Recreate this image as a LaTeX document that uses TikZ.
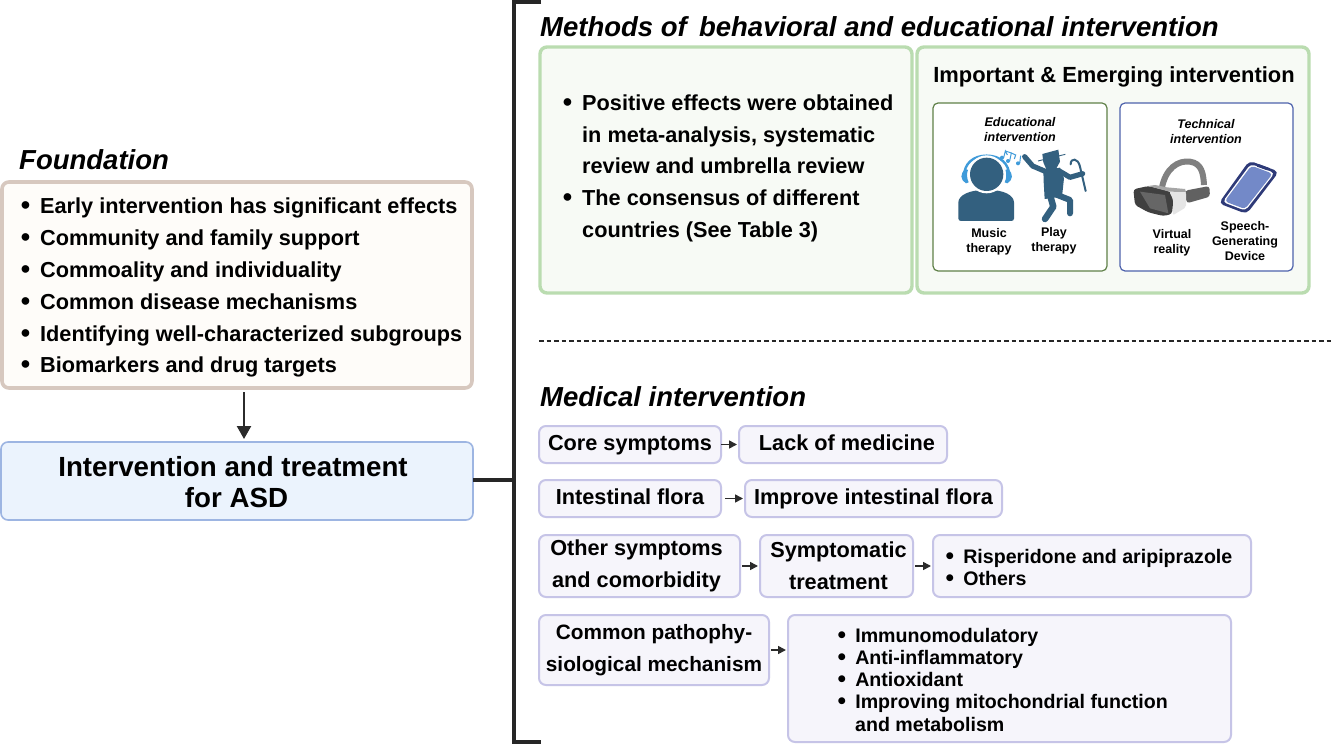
\documentclass[tikz,border=0pt]{standalone}
\usepackage{fontspec}
\setmainfont{Liberation Sans}
\newfontfamily\bulletfont{DejaVu Sans}
\usetikzlibrary{arrows.meta}
\newcommand{\fs}[1]{\fontsize{#1}{#1}\selectfont\bfseries}
\newcommand{\fsb}[2]{\fontsize{#1}{#2}\selectfont\bfseries}
\newcommand{\mybox}[6]{\node[#6,minimum width={#4-#2},minimum height={#5-#3}] (#1) at ({(#2+#4)/2},{(#3+#5)/2}) {};}
\newcommand{\li}[5]{\node[anchor=base west,inner sep=0pt] (#1) at (#2,#3) {\fs{#4}\makebox[#4pt][l]{{\bulletfont •}}#5};}
\tikzset{
 base box/.style={rectangle,rounded corners=#1,inner sep=0pt,outer sep=0pt},
 greenbox/.style={base box=7pt,draw=boxgreen,line width=3.4pt,fill=fillgreen},
 tanbox/.style={base box=7pt,draw=boxtan,line width=3.6pt,fill=filltan},
 bluebox/.style={base box=7pt,draw=boxblue,line width=1.6pt,fill=fillblue},
 lavbox/.style={base box=7pt,draw=boxlav,line width=2pt,fill=filllav},
 edubox/.style={base box=5pt,draw=edugreen,line width=1.2pt,fill=white},
 techbox/.style={base box=5pt,draw=techblue,line width=1.2pt,fill=white},
 arr/.style={draw=arrowgray,line width=1.6pt,shorten >=2pt,-{Triangle[length=8pt,width=8pt]}},
 bigarr/.style={draw=arrowgray,line width=2.4pt,-{Triangle[length=13pt,width=14pt]}},
 brk/.style={draw=black!85,line width=3.4pt},
 txt/.style={inner sep=0pt,align=center},
 one/.style={inner sep=0pt,align=center,text height=15.5pt,text depth=4.5pt,font=\fs{21.7}},
 lbl/.style={inner sep=0pt,anchor=base west},
 small/.style={inner sep=0pt,align=center,font=\fsb{12.5}{15}},
 smalli/.style={inner sep=0pt,align=center,font=\fsb{12.5}{15}\itshape},
 limb/.style={draw=person,line cap=round,line join=round},
}
\definecolor{boxgreen}{HTML}{BADCB0}\definecolor{fillgreen}{HTML}{F7FAF5}
\definecolor{boxtan}{HTML}{D7C8BF}\definecolor{filltan}{HTML}{FEFCF9}
\definecolor{boxblue}{HTML}{9DB5E2}\definecolor{fillblue}{HTML}{EBF3FD}
\definecolor{boxlav}{HTML}{C6C4E7}\definecolor{filllav}{HTML}{F6F5FB}
\definecolor{edugreen}{HTML}{5F8047}\definecolor{techblue}{HTML}{4D62AC}
\definecolor{arrowgray}{HTML}{2B2B2B}\definecolor{person}{HTML}{33607F}
\definecolor{phones}{HTML}{3F9BDA}\definecolor{navy}{HTML}{2E3A78}\definecolor{screen}{HTML}{7389C8}
\begin{document}
\begin{tikzpicture}[x=1pt,y=-1pt]
\useasboundingbox (0,0) rectangle (1333,744);
\fill[white] (0,0) rectangle (1333,744);
% left column
\node[lbl] (foundation) at (19,169) {\fs{27.5}\itshape Foundation};
\mybox{fbox}{2}{182}{472}{388}{tanbox}
\li{f1}{18.3}{213.6}{21.7}{Early intervention has significant effects}
\li{f2}{18.3}{245.6}{21.7}{Community and family support}
\li{f3}{18.3}{277.6}{21.7}{Commoality and individuality}
\li{f4}{18.3}{309.6}{21.7}{Common disease mechanisms}
\li{f5}{18.3}{341.6}{21.7}{Identifying well-characterized subgroups}
\li{f6}{18.3}{372.6}{21.7}{Biomarkers and drug targets}
\mybox{asd}{1}{442}{473}{520}{bluebox}
\node[txt,font=\fsb{27.7}{31.5}] (asdt) at (233,482) {Intervention and treatment\\\hspace*{7pt}for ASD};
\draw[bigarr] ([xshift=7pt,yshift=-4pt]fbox.south) -- ([xshift=7pt,yshift=3pt]asd.north);
% bracket
\coordinate (btop) at (541,2);
\coordinate (bbot) at (541,742);
\draw[brk] (btop) -- (514,2) -- (514,742) -- (bbot);
\draw[brk] ([yshift=1pt]asd.east) -- (514,480);
% methods
\node[lbl] (mh) at (540,36) {\fs{27.5}\itshape Methods of\, behavioral and educational intervention};
\mybox{mleft}{540}{47}{912}{293}{greenbox}
\mybox{mright}{917}{47}{1309}{293}{greenbox}
\li{m1}{560.3}{110}{21.7}{Positive effects were obtained}
\node[lbl] (m1b) at (582,142) {\fs{21.7}in meta-analysis, systematic};
\node[lbl] (m1c) at (582,173) {\fs{21.7}review and umbrella review};
\li{m2}{560.3}{205}{21.7}{The consensus of different}
\node[lbl] (m2b) at (582,237) {\fs{21.7}countries (See Table 3)};
\node[txt] (imp) at (1114,77) {\fs{21.9}Important \& Emerging intervention};
\mybox{edu}{933}{103}{1107}{271}{edubox}
\mybox{tech}{1120}{103}{1293}{271}{techbox}
\node[smalli] (edut) at (1020,130) {Educational\\intervention};
\node[smalli] (techt) at (1206,132) {Technical\\intervention};
\node[small] (music) at (989,242) {Music\\therapy};
\node[small] (play) at (1054,241) {Play\\therapy};
\node[small] (vr) at (1172,243) {Virtual\\reality};
\node[small] (sgd) at (1245,241) {Speech-\\Generating\\Device};
% music and play icons
\begin{scope}[shift={(950,145)},x=0.3333pt,y=-0.3333pt]
 \draw[phones,line width=2.4pt] (42,95) .. controls (42,55) and (70,32) .. (110,32) .. controls (150,32) and (178,55) .. (178,95);
 \fill[phones] (46,72) .. controls (30,85) and (30,105) .. (48,115) -- (56,112) .. controls (50,100) and (50,85) .. (54,75) -- cycle;
 \fill[phones] (174,72) .. controls (190,85) and (190,105) .. (172,115) -- (164,112) .. controls (170,100) and (170,85) .. (166,75) -- cycle;
 \fill[person,rounded corners=2.5pt] (25,228) -- (25,180) .. controls (25,150) and (60,135) .. (110,135) .. controls (160,135) and (192,150) .. (192,180) -- (192,228) -- cycle;
 \fill[white] (110,88) circle[radius=57];
 \fill[person] (110,88) circle[radius=50];
 % notes
 \fill[phones] (156,38) circle[radius=6];
 \fill[phones] (174,48) circle[radius=6];
 \fill[phones] (204,55) circle[radius=6];
 \draw[phones,line width=1pt] (161,38) -- (166,18) -- (172,30);
 \draw[phones,line width=1pt] (179,48) -- (184,24) -- (166,18);
 \draw[phones,line width=1pt] (184,24) -- (197,30) -- (193,42);
 \draw[phones,line width=1pt] (209,55) -- (212,32);
 % dancer
 \fill[person] (280,75) -- (330,68) -- (342,100) -- (336,155) -- (284,162) -- (281,110) -- cycle;
 \fill[person] (277,27) -- (325,14) -- (330,50) -- (318,72) -- (290,75) -- (280,52) -- cycle;
 \draw[person,line width=0.9pt] (264,48) -- (346,28);
 \draw[limb,line width=5.2pt] (224,35) -- (248,63) -- (288,80);
 \draw[limb,line width=5.2pt] (328,78) -- (360,97) -- (398,86);
 \draw[limb,line width=6.5pt] (300,150) -- (310,185) -- (285,222);
 \draw[limb,line width=6pt] (322,150) -- (360,165) -- (360,205);
 \draw[person,line width=2pt,line cap=round] (407,138) -- (390,65) .. controls (384,38) and (362,38) .. (362,58);
\end{scope}
% VR and phone icons
\begin{scope}[shift={(1130,150)},x=0.3333pt,y=-0.3333pt]
 \draw[black!50,line width=6pt] (95,118) .. controls (105,55) and (145,30) .. (180,35) .. controls (215,40) and (220,70) .. (222,105);
 \fill[black!62,rounded corners=3pt] (165,122) -- (238,108) -- (240,140) -- (170,160) -- cycle;
 \fill[black!75,rounded corners=3pt] (10,118) -- (55,108) -- (122,125) -- (130,150) -- (126,192) -- (100,198) -- (55,187) -- (15,165) -- cycle;
 \fill[black!60] (30,125) -- (105,135) -- (115,190) -- (60,175) -- cycle;
 \fill[black!10,rounded corners=2pt] (118,125) -- (168,126) -- (168,172) -- (128,196) -- (130,150) -- cycle;
 \fill[black!35] (55,108) -- (118,125) -- (168,126) -- (165,117) -- (110,112) -- (75,105) -- cycle;
 \fill[navy,rounded corners=5pt] (358,32) -- (447,65) -- (350,192) -- (266,160) -- cycle;
 \fill[white,rounded corners=4pt] (362,42) -- (434,69) -- (346,182) -- (278,156) -- cycle;
 \fill[screen,rounded corners=3.5pt] (364,47) -- (428,71) -- (345,177) -- (284,154) -- cycle;
 \fill[navy] (385,42) -- (418,54) -- (412,61) -- (381,50) -- cycle;
\end{scope}
% separator
\coordinate (dl) at (539,341);
\coordinate (dr) at (1333,341);
\draw[black!85,line width=1.4pt,dash pattern=on 4.5pt off 3pt] (dl) -- (dr);
% medical
\node[lbl] (medh) at (540,406) {\fs{27.5}\itshape Medical intervention};
\mybox{core}{539}{426}{721}{463}{lavbox}
\mybox{lack}{739}{426}{947}{463}{lavbox}
\mybox{intf}{539}{480}{721}{517}{lavbox}
\mybox{impf}{745}{480}{1002}{517}{lavbox}
\mybox{other}{539}{535}{740}{597}{lavbox}
\mybox{sympt}{760}{535}{913}{597}{lavbox}
\mybox{risp}{933}{535}{1251}{597}{lavbox}
\mybox{comm}{539}{615}{769}{685}{lavbox}
\mybox{immu}{788}{615}{1231}{742}{lavbox}
\node[one] (coret) at (core) {Core symptoms};
\node[one,xshift=4pt] (lackt) at (lack) {Lack of medicine};
\node[one] (intt) at (intf) {Intestinal flora};
\node[one] (impt) at (impf) {Improve intestinal flora};
\node[txt,font=\fsb{21.7}{31.5},xshift=-3pt] (othert) at (other) {Other symptoms\\and comorbidity};
\node[txt,font=\fsb{21.7}{32},xshift=2pt] (symt) at (sympt) {Symptomatic\\treatment};
\node[txt,font=\fsb{20.8}{31.5}] (commt) at (comm) {Common pathophy-\\siological mechanism};
\li{r1}{943.5}{563}{19.6}{Risperidone and aripiprazole}
\li{r2}{943.5}{585}{19.6}{Others}
\li{i1}{835.5}{642}{19.6}{Immunomodulatory}
\li{i2}{835.5}{664}{19.6}{Anti-inflammatory}
\li{i3}{835.5}{686}{19.6}{Antioxidant}
\li{i4}{835.5}{708}{19.6}{Improving mitochondrial function}
\node[lbl] (i4b) at (855,731) {\fs{19.6}and metabolism};
\draw[arr] (core.east) -- (lack.west);
\draw[arr] ([xshift=4pt]intf.east) -- (impf.west);
\draw[arr] ([xshift=2pt]other.east) -- (sympt.west);
\draw[arr] ([xshift=2pt]sympt.east) -- (risp.west);
\draw[arr] ([xshift=2pt]comm.east) -- (immu.west |- comm.east);
\end{tikzpicture}
\end{document}
